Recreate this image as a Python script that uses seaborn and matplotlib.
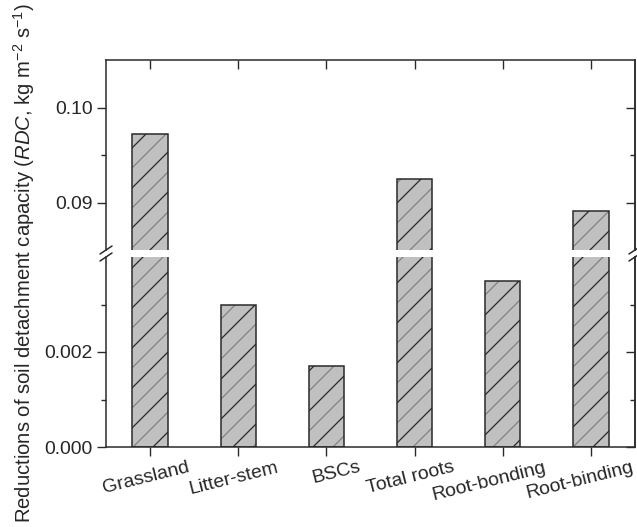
import matplotlib
matplotlib.use("Agg")
import matplotlib.pyplot as plt
from matplotlib.lines import Line2D
from matplotlib.ticker import FixedLocator, FormatStrFormatter
from matplotlib.transforms import ScaledTranslation
import seaborn as sns

# values (RDC, kg m-2 s-1)
categories = ["Grassland", "Litter-stem", "BSCs", "Total roots", "Root-bonding", "Root-binding"]
rdc = [0.0972, 0.0030, 0.0017, 0.0925, 0.0035, 0.0891]

# broken y axis: two ranges and their ticks
upper_lim = (0.085, 0.105)
upper_major = [0.09, 0.10]
upper_minor = [0.095]
lower_lim = (0.0, 0.004)
lower_major = [0.0, 0.002]
lower_minor = [0.001, 0.003]

DPI = 120
P = 100 / DPI  # sizes below were tuned in pt at 100 dpi

sns.set_style("ticks")
plt.rcParams["font.family"] = ["Liberation Sans", "DejaVu Sans"]
plt.rcParams["mathtext.fontset"] = "custom"
plt.rcParams["mathtext.rm"] = "Liberation Sans"
plt.rcParams["mathtext.it"] = "Liberation Sans:italic"
plt.rcParams["hatch.linewidth"] = 0.8 * P

W, H = 637, 527
fig = plt.figure(figsize=(W / DPI, H / DPI), dpi=DPI)
x0, x1 = 106 / W, 635 / W
ax_top = fig.add_axes([x0, 1 - 250 / H, x1 - x0, 190 / H])
ax_bot = fig.add_axes([x0, 1 - 447 / H, x1 - x0, 190 / H])

edge = "#2a2a2a"
fs = 14 * P
for ax in (ax_top, ax_bot):
    # light hatch layer, then darker hatch + outline on top
    sns.barplot(x=categories, y=rdc, ax=ax, color="#c0c0c0", saturation=1,
                width=0.4, edgecolor="#7c7c7c", linewidth=0, hatch="//",
                errorbar=None)
    sns.barplot(x=categories, y=rdc, ax=ax, color=edge, saturation=1,
                fill=False, width=0.4, linewidth=1.1 * P, hatch="/",
                errorbar=None)
    ax.set_xlim(-0.5, len(categories) - 0.5)
    for s in ax.spines.values():
        s.set_linewidth(1.1 * P)
        s.set_color(edge)
    ax.tick_params(axis="y", which="major", direction="out", length=6.5 * P,
                   width=1 * P, labelsize=fs, pad=3 * P, color=edge)
    ax.tick_params(axis="y", which="minor", direction="out", length=3.5 * P,
                   width=1 * P, color=edge)
    ax.set_xlabel("")
    ax.set_ylabel("")

ax_top.set_ylim(*upper_lim)
ax_top.yaxis.set_major_locator(FixedLocator(upper_major))
ax_top.yaxis.set_minor_locator(FixedLocator(upper_minor))
ax_top.yaxis.set_major_formatter(FormatStrFormatter("%.2f"))
ax_top.spines["bottom"].set_visible(False)
ax_top.tick_params(axis="x", bottom=False, top=True, direction="in",
                   labelbottom=False, length=6.5 * P, width=1 * P, color=edge)

ax_bot.set_ylim(*lower_lim)
ax_bot.yaxis.set_major_locator(FixedLocator(lower_major))
ax_bot.yaxis.set_minor_locator(FixedLocator(lower_minor))
ax_bot.yaxis.set_major_formatter(FormatStrFormatter("%.3f"))
ax_bot.spines["top"].set_visible(False)
ax_bot.tick_params(axis="x", direction="out", length=6.5 * P, width=1 * P,
                   labelsize=fs, pad=2 * P, color=edge)
plt.setp(ax_bot.get_xticklabels(), rotation=14, ha="center")

# right side ticks point inward
for ax, major, minor in ((ax_top, upper_major, upper_minor),
                         (ax_bot, lower_major, lower_minor)):
    sec = ax.secondary_yaxis("right")
    sec.yaxis.set_major_locator(FixedLocator(major))
    sec.yaxis.set_minor_locator(FixedLocator(minor))
    sec.tick_params(axis="y", which="major", direction="in", length=6.5 * P,
                    width=1 * P, labelright=False, color=edge)
    sec.tick_params(axis="y", which="minor", direction="in", length=3.5 * P,
                    width=1 * P, labelright=False, color=edge)
    sec.spines["right"].set_linewidth(1.1 * P)
    sec.spines["right"].set_color(edge)

# break marks on both spines
for xc in (106, 635):
    for yc in (250, 257):
        fig.add_artist(Line2D([(xc - 6) / W, (xc + 6) / W],
                              [1 - (yc + 4) / H, 1 - (yc - 4) / H],
                              transform=fig.transFigure, color=edge, lw=1.1 * P))

fig.text(0.038, 0.5,
         r"Reductions of soil detachment capacity ($\mathit{RDC}$, kg m$^{-2}$ s$^{-1}$)",
         rotation=90, ha="center", va="center", fontsize=14.6 * P)

# long labels sit a bit left of their tick, as in the reference
fig.canvas.draw()
rend = fig.canvas.get_renderer()
for lbl in ax_bot.get_xticklabels():
    w = lbl.get_window_extent(rend).width
    dx = -(w - 80) / 2.8
    lbl.set_transform(lbl.get_transform() + ScaledTranslation(dx / DPI, 0, fig.dpi_scale_trans))

fig.savefig("out.png", dpi=DPI)
